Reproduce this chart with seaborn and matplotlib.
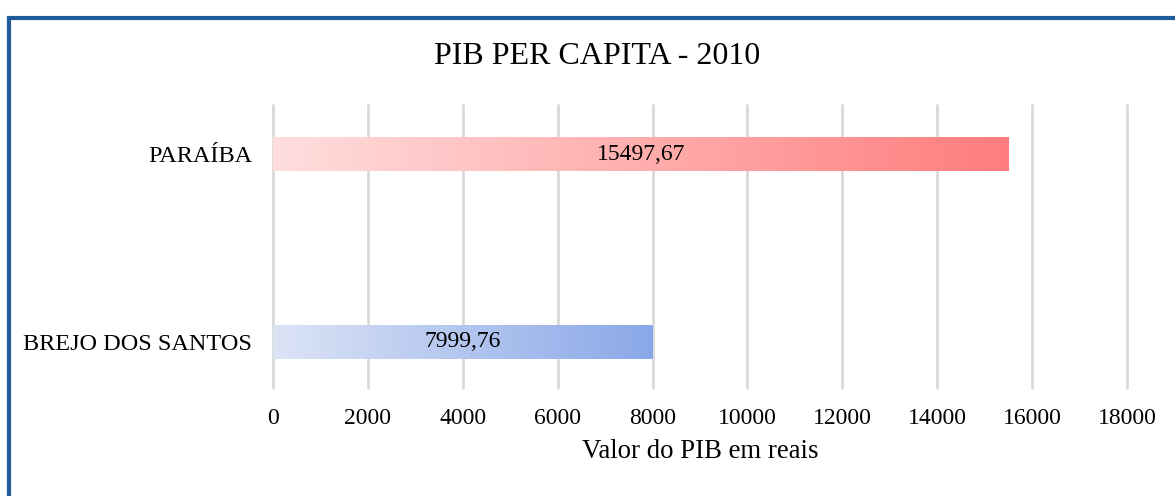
import numpy as np
import pandas as pd
import matplotlib
matplotlib.use("Agg")
import matplotlib.pyplot as plt
import seaborn as sns
from matplotlib.colors import LinearSegmentedColormap
from matplotlib.patches import Rectangle

categories = ["PARAÍBA", "BREJO DOS SANTOS"]
values = [15497.67, 7999.76]
value_labels = ["15497,67", "7999,76"]
xticks = [0, 2000, 4000, 6000, 8000, 10000, 12000, 14000, 16000, 18000]
grad_start = ["#FFDEDE", "#DCE4F6"]
grad_end = ["#FF7D7D", "#8AA8E8"]

sns.set_theme(style="white")
plt.rcParams['font.family'] = ['Liberation Serif', 'DejaVu Serif']

df = pd.DataFrame({"cat": categories, "val": values})

fig = plt.figure(figsize=(11.75, 4.96), dpi=100)
ax = fig.add_axes([273/1175, 1-388/496, (1127-273)/1175, (388-105)/496])

sns.barplot(data=df, x="val", y="cat", orient="h", ax=ax, width=0.18,
            color="white", saturation=1)

for i, p in enumerate(ax.patches):
    x0, y0 = p.get_x(), p.get_y()
    w, h = p.get_width(), p.get_height()
    p.set_facecolor("none")
    p.set_edgecolor("none")
    cmap = LinearSegmentedColormap.from_list("g%d" % i, [grad_start[i], grad_end[i]])
    grad = np.linspace(0, 1, 256).reshape(1, -1)
    ax.imshow(grad, cmap=cmap, aspect="auto", extent=(x0, x0 + w, y0 + h, y0),
              zorder=2, interpolation="bicubic")
    ax.text(x0 + w / 2, y0 + h / 2, value_labels[i], ha="center", va="center",
            fontsize=17, color="black", zorder=3)

ax.set_xlim(0, 18000)
ax.set_ylim(1.245, -0.261)
ax.set_xticks(xticks)
ax.set_xticklabels([str(t) for t in xticks], fontsize=17)
ax.tick_params(axis="y", labelsize=17.5, length=0, pad=15)
ax.tick_params(axis="x", length=0, pad=14.5)
ax.grid(axis="x", color="#D9D9D9", linewidth=2, zorder=0)
for gl in ax.get_xgridlines():
    gl.set_clip_on(False)
ax.set_axisbelow(True)
for s in ax.spines.values():
    s.set_visible(False)
ax.set_ylabel("")
ax.set_xlabel("Valor do PIB em reais", fontsize=19.3, labelpad=7, color="black")
for lab in ax.get_xticklabels() + ax.get_yticklabels():
    lab.set_color("black")

fig.suptitle("PIB PER CAPITA - 2010", x=597.5/1175, y=1-57/496, va="center",
             fontsize=23, color="black")

# outer border (left and top visible)
fig.patches.append(Rectangle((8.5/1175, -0.05), 1.2, 1 - 17.5/496 + 0.05,
                             transform=fig.transFigure, fill=False,
                             edgecolor="#1F5C99", linewidth=3))

fig.savefig("out.png", dpi=100)
